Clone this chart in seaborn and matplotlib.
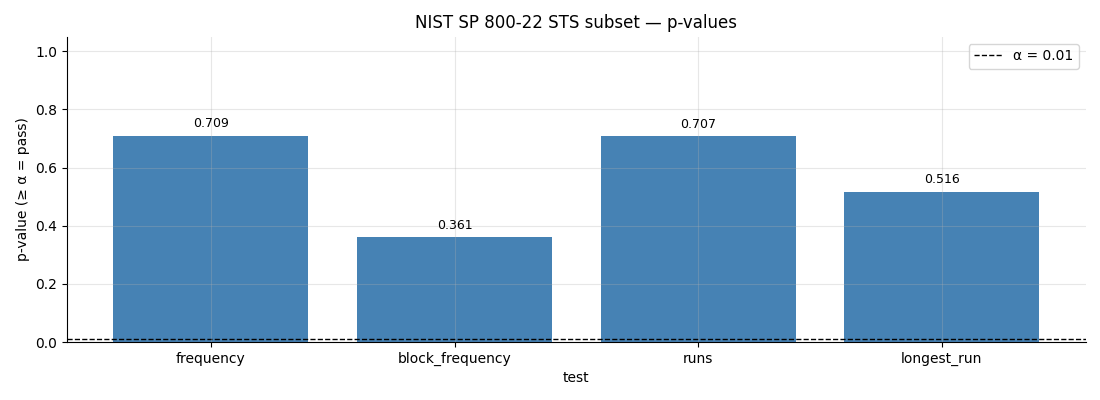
import pandas as pd
import seaborn as sns
import matplotlib
matplotlib.use("Agg")
import matplotlib.pyplot as plt

# p-values per test
tests = ["frequency", "block_frequency", "runs", "longest_run"]
p_values = [0.709, 0.361, 0.707, 0.516]
alpha = 0.01

df = pd.DataFrame({"test": tests, "p_value": p_values})

plt.rcParams["font.family"] = ["DejaVu Sans"]

fig, ax = plt.subplots(figsize=(11, 4), dpi=100)
sns.barplot(data=df, x="test", y="p_value", color="steelblue",
            saturation=1, width=0.8, linewidth=0, ax=ax)

for bar, v in zip(ax.patches, p_values):
    ax.annotate(f"{v:.3f}", (bar.get_x() + bar.get_width() / 2, bar.get_height()),
                xytext=(0, 4), textcoords="offset points",
                ha="center", va="bottom", fontsize=9)

ax.axhline(alpha, color="black", linestyle="--", linewidth=1, label=f"α = {alpha}")

ax.set_axisbelow(False)
ax.grid(True, alpha=0.3)
ax.set_xlim(-0.59, 3.59)
ax.set_ylim(0, 1.05)
ax.set_title("NIST SP 800-22 STS subset — p-values", fontsize=12)
ax.set_xlabel("test")
ax.set_ylabel("p-value (≥ α = pass)")
ax.legend(loc="upper right")
sns.despine(ax=ax)

fig.subplots_adjust(left=0.061, right=0.987, top=0.908, bottom=0.145)
fig.savefig("out.png", dpi=100)
